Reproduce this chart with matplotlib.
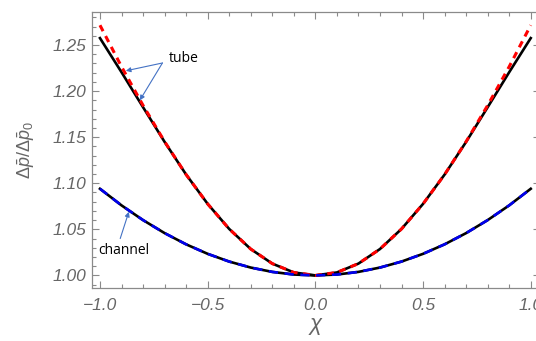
import matplotlib
matplotlib.use("Agg")
import matplotlib.pyplot as plt
from matplotlib.ticker import MultipleLocator

plt.rcParams["mathtext.fontset"] = "custom"
plt.rcParams["mathtext.rm"] = "Liberation Sans"
plt.rcParams["mathtext.it"] = "Liberation Sans:italic"

# ---- data ----
chi = [-1.0, -0.9, -0.8, -0.7, -0.6, -0.5, -0.4, -0.3, -0.2, -0.1, 0.0,
       0.1, 0.2, 0.3, 0.4, 0.5, 0.6, 0.7, 0.8, 0.9, 1.0]
tube_exact = [1.2575, 1.2205, 1.1825, 1.1449, 1.1094, 1.0776, 1.0504, 1.0286, 1.0128, 1.0032, 1.0,
              1.0032, 1.0128, 1.0286, 1.0504, 1.0776, 1.1094, 1.1449, 1.1825, 1.2205, 1.2575]
tube_approx = [1.2715, 1.2265, 1.1845, 1.1452, 1.1094, 1.0776, 1.0504, 1.0286, 1.0128, 1.0032, 1.0,
               1.0032, 1.0128, 1.0286, 1.0504, 1.0776, 1.1094, 1.1452, 1.1845, 1.2265, 1.2715]
channel_exact = [1.0940, 1.0760, 1.0600, 1.0459, 1.0337, 1.0234, 1.0150, 1.0085, 1.0038, 1.00094, 1.0,
                 1.00094, 1.0038, 1.0085, 1.0150, 1.0234, 1.0337, 1.0459, 1.0600, 1.0760, 1.0940]
channel_approx = channel_exact
xticks = [-1.0, -0.5, 0.0, 0.5, 1.0]
yticks = [1.00, 1.05, 1.10, 1.15, 1.20, 1.25]

W, H = 536, 341
fig = plt.figure(figsize=(W / 100, H / 100), dpi=100)
ax = fig.add_axes([92 / W, 1 - 288.3 / H, 448 / W, 276 / H])

ax.plot(chi, tube_exact, color="black", lw=1.9, zorder=3)
ax.plot(chi, tube_approx, color="#ff0000", lw=2.2, ls=(0, (2.2, 1.8)), zorder=4)
ax.plot(chi, channel_exact, color="black", lw=1.9, zorder=3)
ax.plot(chi, channel_approx, color="#0000ee", lw=1.9, ls=(0, (3.5, 2.5)), zorder=4)

ax.set_xlim(-1.037, 1.043)
ax.set_ylim(0.986, 1.2855)

gray = "#666666"
ax.set_xticks(xticks)
ax.set_xticklabels([f"{v:.1f}".replace("-", "\u2212") for v in xticks])
ax.set_yticks(yticks)
ax.set_yticklabels([f"{v:.2f}" for v in yticks])
ax.xaxis.set_minor_locator(MultipleLocator(0.1))
ax.yaxis.set_minor_locator(MultipleLocator(0.01))
ax.tick_params(which="both", direction="in", top=True, right=True, color="#8a8a8a", width=0.8)
ax.tick_params(which="major", length=5)
ax.tick_params(which="minor", length=3)
ax.tick_params(axis="x", pad=7)
ax.tick_params(axis="y", pad=4)
for lab in ax.get_xticklabels() + ax.get_yticklabels():
    lab.set_fontfamily("Liberation Sans")
    lab.set_fontstyle("italic")
    lab.set_fontsize(12.5)
    lab.set_color(gray)
for s in ax.spines.values():
    s.set_color("#8a8a8a")
    s.set_linewidth(0.9)

ax.set_xlabel(r"$\chi$", fontsize=16, color=gray, labelpad=2)
ax.set_ylabel(r"$\Delta\bar{p}/\Delta\bar{p}_0$", fontsize=13, color=gray, labelpad=11)

# annotations
acol = "#4472c4"
ax.text(-0.61, 1.2355, "tube", fontsize=10, family="Open Sans", va="center", ha="center", color="black")
for tx, ty in [(-0.880, 1.222), (-0.815, 1.190)]:
    ax.annotate("", xy=(tx, ty), xytext=(-0.71, 1.2305),
                arrowprops=dict(arrowstyle="-|>", color=acol, lw=0.8, mutation_scale=7,
                                shrinkA=0, shrinkB=0))
ax.text(-0.89, 1.0265, "channel", fontsize=10, family="Open Sans", va="center", ha="center", color="black")
ax.annotate("", xy=(-0.866, 1.069), xytext=(-0.906, 1.040),
            arrowprops=dict(arrowstyle="-|>", color=acol, lw=0.8, mutation_scale=7,
                            shrinkA=0, shrinkB=0))

fig.savefig("out.png", dpi=100)
